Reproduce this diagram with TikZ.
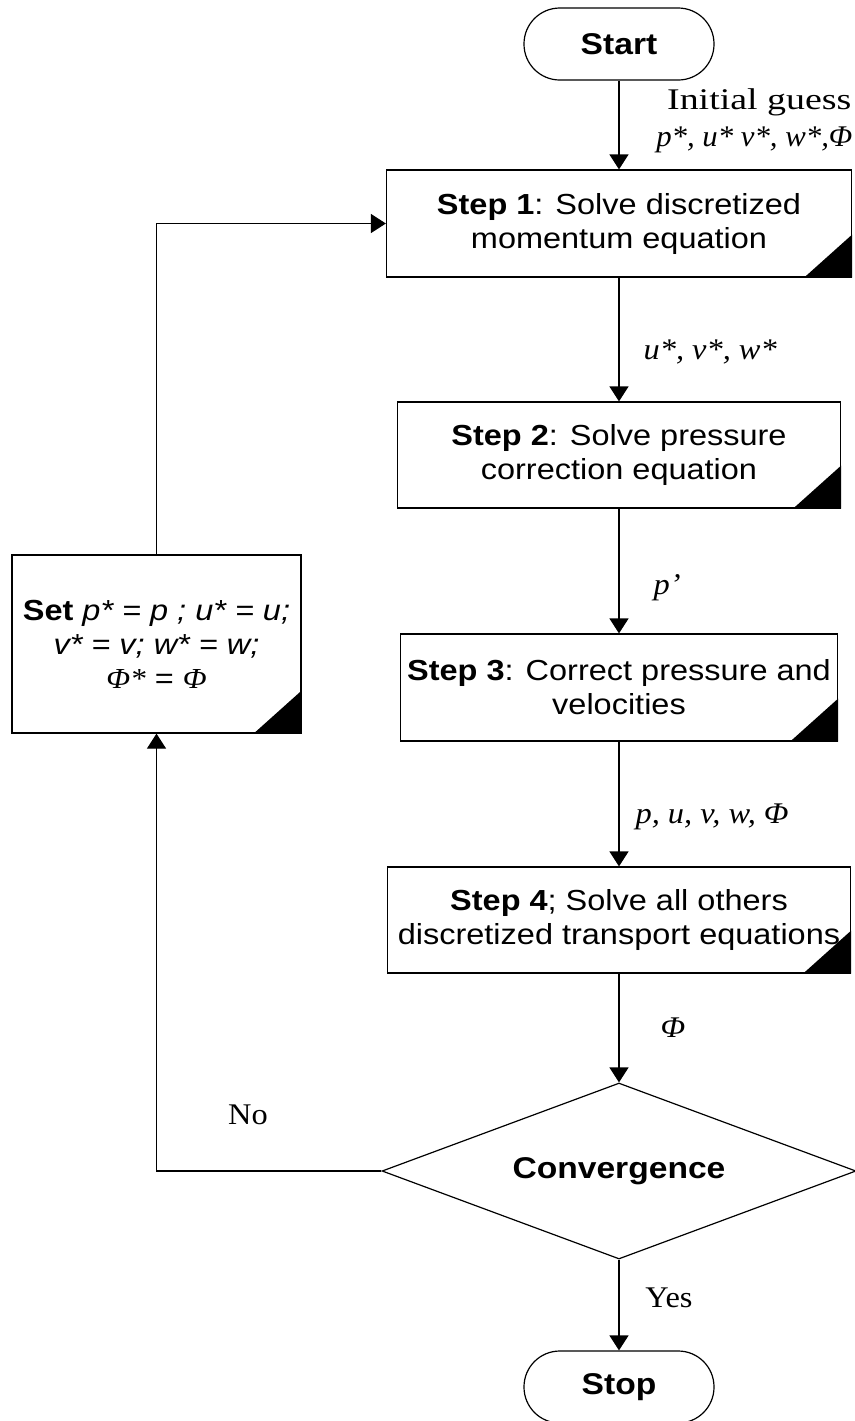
\documentclass[tikz,border=0pt]{standalone}
\usepackage{graphicx}
\usepackage{fontspec}
\setmainfont{Liberation Serif}[FakeStretch=1.08]
\setsansfont{Liberation Sans}[FakeStretch=1.12]
\usetikzlibrary{shapes.geometric,arrows.meta}

\begin{document}
\begin{tikzpicture}[x=0.5pt,y=-0.5pt,
  line width=0.6pt,
  stepbox/.style={draw, rectangle, inner sep=0pt, align=center,
    font=\sffamily\fontsize{14.5}{17}\selectfont},
  term/.style={draw, rectangle, rounded corners=17.9pt, minimum width=95pt,
    minimum height=36pt, inner sep=0pt,
    font=\sffamily\bfseries\fontsize{15}{17}\selectfont},
  dec/.style={draw, diamond, aspect=2.69, minimum width=237pt, minimum height=88pt,
    inner sep=0pt, font=\sffamily\bfseries\fontsize{15}{17}\selectfont},
  lbl/.style={inner sep=0pt, font=\rmfamily\fontsize{15}{17}\selectfont},
  arr/.style={-{Triangle[length=7.5pt,width=9.5pt]}},
  corner/.style={fill=black, draw=none}
]
\useasboundingbox (0,0) rectangle (855,1421);

% terminals
\node[term] (start) at (619,44) {Start};
\node[term] (stop) at (619,1387) {Stop};

% steps
\node[stepbox, minimum width=232.5pt, minimum height=53.5pt] (s1) at (619,223.5)
  {\textbf{Step 1}: Solve discretized\\momentum equation};
\node[stepbox, minimum width=221.5pt, minimum height=53pt] (s2) at (619,455)
  {\textbf{Step 2}: Solve pressure\\correction equation};
\node[stepbox, minimum width=218.5pt, minimum height=53.5pt] (s3) at (619,687.5)
  {\makebox[0pt]{\textbf{Step 3}: Correct pressure and}\\\makebox[0pt]{velocities}};
\node[stepbox, minimum width=231.5pt, minimum height=53pt] (s4) at (619,920)
  {\makebox[0pt]{\textbf{Step 4}; Solve all others}\\\makebox[0pt]{discretized transport equations}};

% set box
\node[stepbox, minimum width=144.5pt, minimum height=89pt] (set) at (156.5,644)
  {\textbf{Set} \textit{p* = p ; u* = u;}\\\textit{v* = v; w* = w;}\\{\rmfamily\itshape Φ*} = {\rmfamily\itshape Φ}};

% decision
\node[dec] (conv) at (619,1171) {Convergence};

% corner marks
\foreach \b in {s1,s2,s3,s4,set}{
  \fill[corner] (\b.south east) -- ++(-48,0) -- ++(48,-43) -- cycle;
}

% connectors
\draw[arr] (start.south) -- (start.south |- s1.north);
\draw[arr] (s1.south) -- (s1.south |- s2.north);
\draw[arr] (s2.south) -- (s2.south |- s3.north);
\draw[arr] (s3.south) -- (s3.south |- s4.north);
\draw[arr] (s4.south) -- (s4.south |- conv.north);
\draw[arr] (conv.south) -- (conv.south |- stop.north);
\draw[arr] (conv.west) -- (conv.west -| set.south) -- (set.south);
\draw[arr] (set.north) -- (set.north |- s1.west) -- (s1.west);

% labels
\node[lbl, anchor=east] (lig) at (852,102) {\scalebox{1.17}[1]{Initial guess}};
\node[lbl, anchor=east] (lstar) at (853,140) {\scalebox{0.95}[1]{\textit{p*, u* v*, w*,Φ}}};
\node[lbl, anchor=west] (luvw) at (643,352) {\textit{u*, v*, w*}};
\node[lbl, anchor=west] (lp) at (653,588) {\textit{p’}};
\node[lbl, anchor=west] (lall) at (635,817) {\textit{p, u, v, w,  Φ}};
\node[lbl, anchor=west] (lphi) at (660,1028) {\textit{Φ}};
\node[lbl] (lno) at (248,1115) {No};
\node[lbl] (lyes) at (669,1298) {Yes};
\end{tikzpicture}
\end{document}
